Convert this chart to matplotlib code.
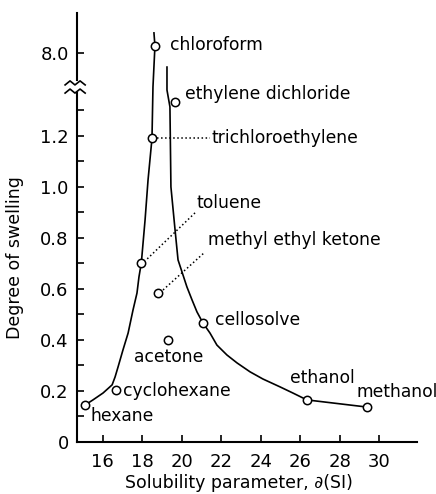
import numpy as np
import matplotlib
matplotlib.use("Agg")
import matplotlib.pyplot as plt
from matplotlib.ticker import FixedLocator

# solvent points: solubility parameter, degree of swelling
solvents = ["hexane", "cyclohexane", "toluene", "methyl ethyl ketone", "acetone",
            "trichloroethylene", "chloroform", "ethylene dichloride", "cellosolve",
            "ethanol", "methanol"]
delta = [15.10, 16.68, 17.95, 18.80, 19.30, 18.49, 18.64, 19.66, 21.07, 26.34, 29.38]
swelling = [0.145, 0.204, 0.702, 0.584, 0.40, 1.19, 8.135, 1.333, 0.467, 0.165, 0.137]

# hand-drawn curves
left_x = [15.10, 15.50, 16.01, 16.47, 16.62, 16.77, 17.02, 17.28, 17.53, 17.73, 17.83,
          17.95, 18.14, 18.29, 18.49, 18.54, 18.64, 18.59]
left_y = [0.145, 0.165, 0.192, 0.224, 0.255, 0.294, 0.361, 0.427, 0.518, 0.584, 0.647,
          0.702, 0.871, 1.027, 1.19, 1.392, 8.135, 8.39]
right_x = [19.25, 19.25, 19.40, 19.45, 19.66, 19.81, 20.01, 20.26, 20.52, 20.77, 21.07,
           21.43, 21.78, 22.29, 22.80, 23.46, 24.11, 24.98, 25.63, 26.34, 29.38]
right_y = [7.72, 1.38, 1.314, 1.0, 0.831, 0.714, 0.667, 0.608, 0.557, 0.510, 0.467,
           0.427, 0.380, 0.341, 0.310, 0.275, 0.247, 0.216, 0.192, 0.165, 0.137]

yticks = [0, 0.2, 0.4, 0.6, 0.8, 1.0, 1.2, 8.0]
ytick_labels = ["0", "0.2", "0.4", "0.6", "0.8", "1.0", "1.2", "8.0"]
yminor = [0.1, 0.3, 0.5, 0.7, 0.9, 1.1, 1.3]
xticks = [16, 18, 20, 22, 24, 26, 28, 30]

# broken y axis: linear up to LOW, squeezed gap, then a compressed upper part
LOW, HIGH, GAP, S = 1.4, 7.4, 0.001, 0.2


def fwd(v):
    v = np.asarray(v, dtype=float)
    mid = LOW + (v - LOW) * GAP
    top = LOW + (HIGH - LOW) * GAP + (v - HIGH) * S
    return np.where(v <= LOW, v, np.where(v < HIGH, mid, top))


def inv(d):
    d = np.asarray(d, dtype=float)
    edge = LOW + (HIGH - LOW) * GAP
    mid = LOW + (d - LOW) / GAP
    top = HIGH + (d - edge) / S
    return np.where(d <= LOW, d, np.where(d < edge, mid, top))


fig = plt.figure(figsize=(4.36, 4.94), dpi=100)
ax = fig.add_axes([0.1766, 0.1053, 0.7798, 0.8684])
ax.set_yscale("function", functions=(fwd, inv))
ax.set_xlim(14.69, 31.92)
ax.set_ylim(0, 8.78)

ax.plot(left_x, left_y, color="black", lw=1.2)
ax.plot(right_x, right_y, color="black", lw=1.2)
ax.plot(delta, swelling, "o", ms=6, mfc="white", mec="black", mew=1.1, zorder=3)

# dotted leader lines
ax.plot([18.74, 21.43], [1.19, 1.19], ":", color="black", lw=1.1)
ax.plot([18.25, 20.72], [0.718, 0.902], ":", color="black", lw=1.1)
ax.plot([19.05, 21.18], [0.596, 0.745], ":", color="black", lw=1.1)

fs = 12.3
labels = [
    ("chloroform", 19.40, 8.15),
    ("ethylene dichloride", 20.16, 1.365),
    ("trichloroethylene", 21.53, 1.19),
    ("toluene", 20.77, 0.937),
    ("methyl ethyl ketone", 21.33, 0.792),
    ("cellosolve", 21.68, 0.478),
    ("acetone", 17.57, 0.333),
    ("cyclohexane", 17.04, 0.20),
    ("hexane", 15.39, 0.102),
    ("ethanol", 25.48, 0.251),
    ("methanol", 28.83, 0.196),
]
for txt, x, y in labels:
    ax.text(x, y, txt, ha="left", va="center", fontsize=fs, clip_on=False)

# axes styling
for side in ["top", "right", "left"]:
    ax.spines[side].set_visible(False)
ax.spines["bottom"].set_linewidth(1.5)
ax.plot([0, 0], [0, 0.8135], color="black", lw=1.5, transform=ax.transAxes, clip_on=False)
ax.plot([0, 0], [0.844, 1.0], color="black", lw=1.5, transform=ax.transAxes, clip_on=False)
zx = np.array([-0.035, -0.0205, -0.006, 0.009, 0.024])
zz = np.array([-0.0047, 0.0047, -0.0047, 0.0047, -0.0047])
ax.plot(zx, 0.837 + zz, color="black", lw=1.2, transform=ax.transAxes, clip_on=False)
ax.plot(zx, 0.818 + zz, color="black", lw=1.2, transform=ax.transAxes, clip_on=False)

ax.set_xticks(xticks)
ax.set_yticks(yticks)
ax.set_yticklabels(ytick_labels)
ax.yaxis.set_minor_locator(FixedLocator(yminor))
ax.tick_params(axis="both", which="both", direction="in", length=5, width=1.2,
               labelsize=13, pad=6)
ax.tick_params(axis="x", pad=8)

ax.set_xlabel("Solubility parameter, \u2202(SI)", fontsize=12.5)
ax.xaxis.set_label_coords(0.476, -0.0746)
ax.set_ylabel("Degree of swelling", fontsize=12.5)
ax.yaxis.set_label_coords(-0.155, 0.431)

fig.savefig("out.png", dpi=100)
